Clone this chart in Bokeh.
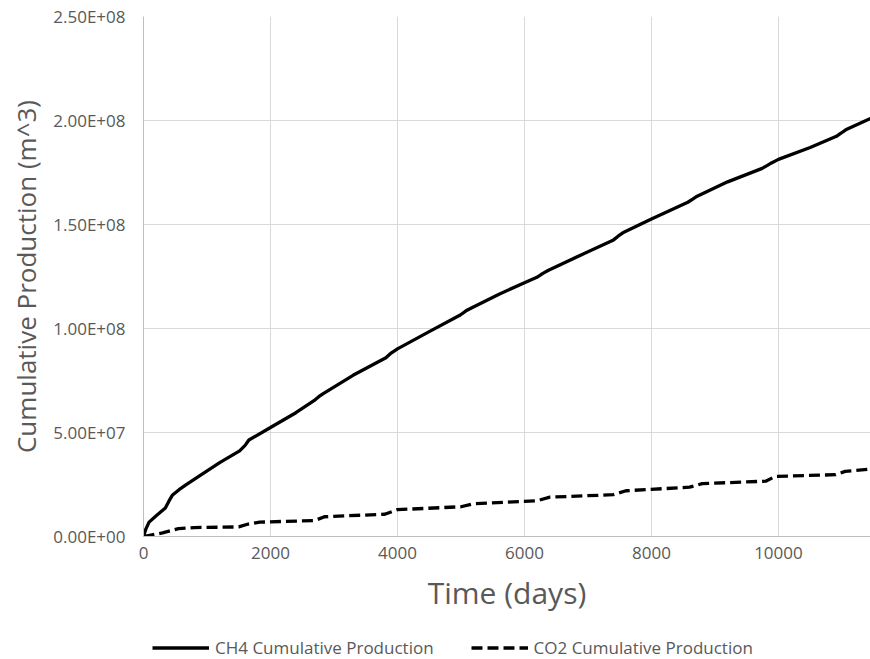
from bokeh.plotting import figure
from bokeh.layouts import column
from bokeh.models import Range1d, FixedTicker, Legend, LegendItem
from bokeh.embed import file_html
from bokeh.resources import INLINE

# ---- data ----
ch4_days = [0, 40, 88, 200, 344, 400, 453, 560, 673, 900, 1200, 1514, 1600, 1660, 2000, 2400,
            2685, 2760, 2831, 3300, 3818, 3900, 4000, 4500, 4989, 5080, 5172, 5600, 6000, 6196,
            6290, 6379, 6900, 7403, 7480, 7549, 8000, 8573, 8650, 8720, 9200, 9744, 9820, 9890,
            10000, 10500, 10914, 10990, 11060, 11450]
ch4_cum = [0, 0.38e7, 0.69e7, 1.0e7, 1.37e7, 1.7e7, 1.98e7, 2.25e7, 2.49e7, 2.95e7, 3.55e7, 4.12e7, 4.38e7, 4.64e7,
           5.24e7, 5.95e7, 6.53e7, 6.72e7, 6.87e7, 7.75e7, 8.59e7, 8.82e7, 9.02e7, 9.85e7, 1.065e8, 1.085e8,
           1.10e8, 1.165e8, 1.22e8, 1.246e8, 1.265e8, 1.28e8, 1.355e8, 1.426e8, 1.445e8, 1.46e8, 1.526e8,
           1.607e8, 1.622e8, 1.636e8, 1.705e8, 1.77e8, 1.783e8, 1.796e8, 1.813e8, 1.87e8, 1.924e8, 1.94e8,
           1.955e8, 2.01e8]

co2_days = [0, 300, 550, 800, 1500, 1650, 1830, 2700, 2850, 3800, 4000, 5000, 5200, 6200, 6400,
            7400, 7600, 8600, 8800, 9800, 9950, 10900, 11050, 11450]
co2_cum = [0, 0.17e7, 0.38e7, 0.43e7, 0.46e7, 0.6e7, 0.69e7, 0.77e7, 0.95e7, 1.07e7, 1.29e7, 1.43e7,
           1.58e7, 1.72e7, 1.89e7, 2.01e7, 2.2e7, 2.37e7, 2.54e7, 2.66e7, 2.89e7, 2.97e7, 3.13e7, 3.24e7]

x_ticks = [0, 2000, 4000, 6000, 8000, 10000]
y_ticks = [0, 5e7, 1e8, 1.5e8, 2e8, 2.5e8]
y_tick_labels = ["0.00E+00", "5.00E+07", "1.00E+08", "1.50E+08", "2.00E+08", "2.50E+08"]

series_names = ["CH4 Cumulative Production", "CO2 Cumulative Production"]

FONT = "Open Sans"
GREY_TEXT = "#595959"
SOLID = dict(line_color="black", line_width=3.3)
DASHED = dict(line_color="black", line_width=3.3, line_dash="11 5")

p = figure(width=870, height=620, output_backend="svg", toolbar_location=None,
           x_range=Range1d(0, 11450), y_range=Range1d(0, 2.5e8),
           min_border_left=143, min_border_right=0, min_border_top=16, min_border_bottom=84)
p.outline_line_color = None
p.background_fill_color = "white"

p.line(ch4_days, ch4_cum, **SOLID)
p.line(co2_days, co2_cum, **DASHED)

# axes
p.xaxis.ticker = FixedTicker(ticks=x_ticks)
p.yaxis.ticker = FixedTicker(ticks=y_ticks)
p.yaxis.major_label_overrides = {t: l for t, l in zip(y_ticks, y_tick_labels)}
for ax in (p.xaxis[0], p.yaxis[0]):
    ax.major_tick_in = 0
    ax.major_tick_out = 0
    ax.minor_tick_in = 0
    ax.minor_tick_out = 0
    ax.axis_line_color = "#bfbfbf"
    ax.axis_line_width = 1
    ax.major_label_text_font = FONT
    ax.major_label_text_font_size = "17px"
    ax.major_label_text_color = GREY_TEXT
    ax.axis_label_text_font = FONT
    ax.axis_label_text_font_style = "normal"
    ax.axis_label_text_color = GREY_TEXT
p.xaxis.major_label_standoff = 10
p.yaxis.major_label_standoff = 18
p.xaxis.axis_label = "Time (days)"
p.xaxis.axis_label_text_font_size = "30px"
p.xaxis.axis_label_standoff = 10
p.yaxis.axis_label = "Cumulative Production (m^3)"
p.yaxis.axis_label_text_font_size = "26px"
p.yaxis.axis_label_standoff = 6

p.xgrid.grid_line_color = "#d9d9d9"
p.ygrid.grid_line_color = "#d9d9d9"
p.xgrid.grid_line_width = 1
p.ygrid.grid_line_width = 1

# legend strip below the chart (same series, plotted out of view so only the key shows)
pl = figure(width=870, height=39, output_backend="svg", toolbar_location=None,
            x_range=Range1d(-2, -1), y_range=Range1d(-2, -1),
            x_axis_type=None, y_axis_type=None,
            min_border_left=0, min_border_right=0, min_border_top=0, min_border_bottom=0)
pl.outline_line_color = None
pl.xgrid.visible = False
pl.ygrid.visible = False
l1 = pl.line(ch4_days, ch4_cum, **SOLID)
l2 = pl.line(co2_days, co2_cum, **DASHED)

legend = Legend(items=[LegendItem(label=series_names[0], renderers=[l1]),
                       LegendItem(label=series_names[1], renderers=[l2])],
                orientation="horizontal", location=(9, 0),
                label_text_font=FONT, label_text_font_size="17px", label_text_color=GREY_TEXT,
                glyph_width=57, glyph_height=17, label_standoff=6, spacing=37,
                padding=0, margin=0, border_line_alpha=0, background_fill_alpha=0)
pl.add_layout(legend, "center")

layout = column(p, pl, spacing=0)
open("out.html", "w").write(file_html(layout, INLINE))
